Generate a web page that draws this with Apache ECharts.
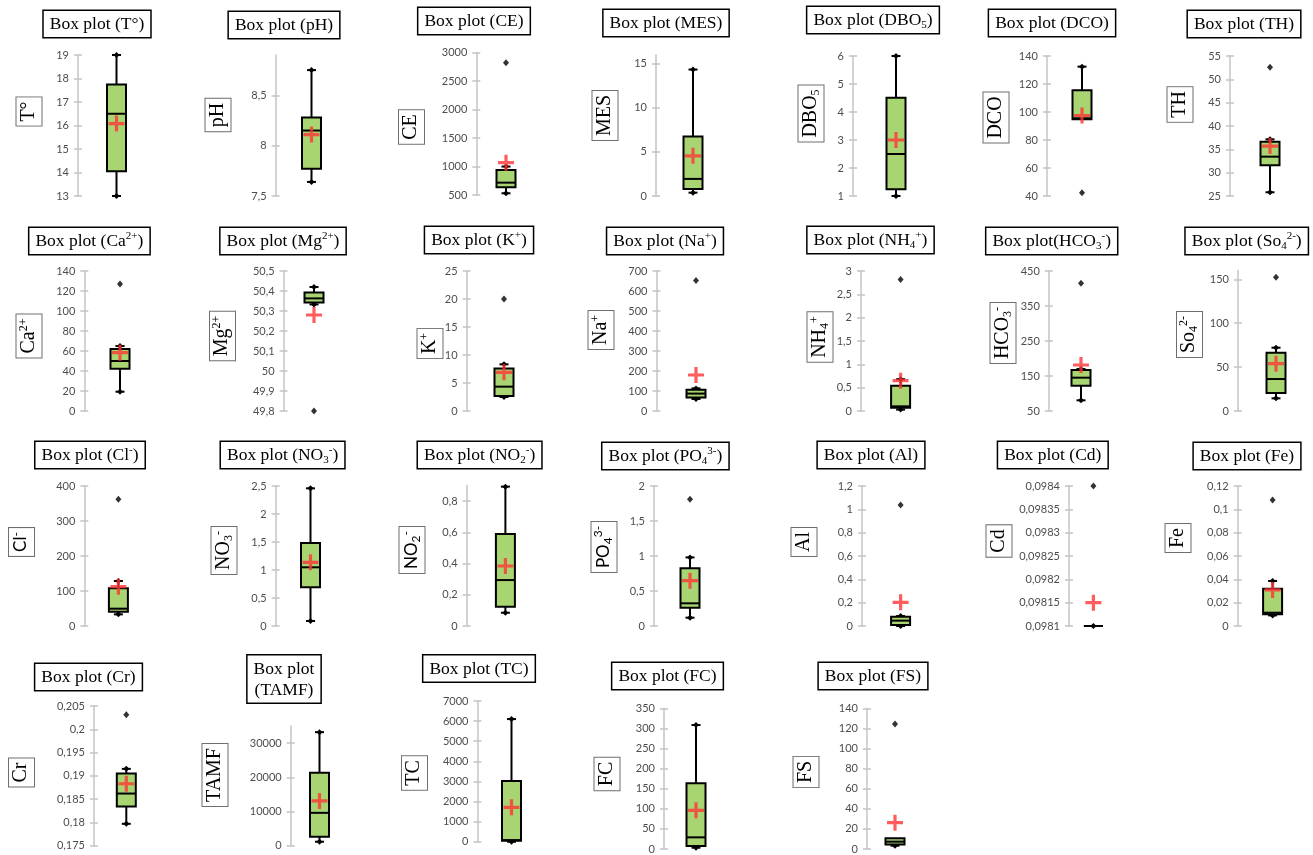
<!DOCTYPE html>
<html><head><meta charset="utf-8">
<script src="https://cdn.jsdelivr.net/npm/echarts@6/dist/echarts.min.js"></script>
<style>html,body{margin:0;padding:0;background:#fff}#c{width:1313px;height:855px}</style>
</head><body><div id="c"></div>
<script>
// ---------- data ----------
const titles = ['Box plot (T°)','Box plot (pH)','Box plot (CE)','Box plot (MES)','Box plot (DBO_{5})','Box plot (DCO)','Box plot (TH)',
  'Box plot (Ca^{2+})','Box plot (Mg^{2+})','Box plot (K^{+})','Box plot (Na^{+})','Box plot (NH_{4}^{+})','Box plot(HCO_{3}^{-})','Box plot (So_{4}^{2-})',
  'Box plot (Cl^{-})','Box plot (NO_{3}^{-})','Box plot (NO_{2}^{-})','Box plot (PO_{4}^{3-})','Box plot (Al)','Box plot (Cd)','Box plot (Fe)',
  'Box plot (Cr)','Box plot\n(TAMF)','Box plot (TC)','Box plot (FC)','Box plot (FS)'];
const axisNames = ['T°','pH','CE','MES','DBO_{5}','DCO','TH',
  'Ca^{2+}','Mg^{2+}','K^{+}','Na^{+}','NH_{4}^{+}','HCO_{3}^{-}','So_{4}^{2-}',
  'Cl^{-}','NO_{3}^{-}','NO_{2}^{-}','PO_{4}^{3-}','Al','Cd','Fe',
  'Cr','TAMF','TC','FC','FS'];
const lowWhisker  = [13, 7.64, 530, 0.38, 1, 94.8, 25.8, 19.3, 50.333, 2.5, 60, 0.03, 80.5, 14.4, 33.3, 0.089, 0.085, 0.119, 0, 0.0981, 0.0091, 0.1797, 1165, 0, 3.3, 3.3];
const q1          = [14.05, 7.77, 635, 0.8, 1.24, 94.8, 31.57, 42.3, 50.342, 2.68, 68, 0.07, 122.4, 20.5, 41, 0.69, 0.124, 0.262, 0.009, 0.0981, 0.01, 0.1834, 2620, 50, 7.5, 4.6];
const median      = [16.5, 8.15, 717, 1.94, 2.5, 95.5, 33.43, 50, 50.363, 4.35, 87, 0.1, 145.2, 36.4, 49.5, 1.048, 0.294, 0.324, 0.046, 0.0981, 0.0114, 0.1862, 9610, 80, 29, 7.3];
const q3          = [17.75, 8.28, 939, 6.75, 4.51, 115.5, 36.6, 62, 50.393, 7.6, 106, 0.54, 167, 66.4, 107.6, 1.482, 0.589, 0.824, 0.08, 0.0981, 0.032, 0.1905, 21360, 3018, 163.4, 10.6];
const highWhisker = [19, 8.75, 1000, 14.35, 6, 132.4, 37.14, 65, 50.42, 8.33, 113, 0.68, 170, 72.1, 128.6, 2.458, 0.892, 0.98, 0.085, 0.0981, 0.0386, 0.1915, 33200, 6100, 308.5, 10.6];
const means       = [16.08, 8.11, 1068, 4.56, 3.0, 97.5, 35.7, 58.3, 50.28, 6.9, 180, 0.65, 181.4, 53.9, 112.4, 1.137, 0.384, 0.648, 0.203, 0.09815, 0.0309, 0.1883, 13100, 1708, 96.3, 26.2];
const outliers    = [[], [], [2824], [], [], [42.4], [52.6], [127], [49.8], [20], [652], [2.82], [414.8], [152.3], [362], [], [], [1.81], [1.037], [0.0984], [0.108], [0.2031], [], [], [], [124.4]];
const axisMin  = [13, 7.5, 500, 0, 1, 40, 25, 0, 49.8, 0, 0, 0, 50, 0, 0, 0, 0, 0, 0, 0.0981, 0, 0.175, 0, 0, 0, 0];
const axisMax  = [19, 8.9, 3000, 16, 6, 140, 55, 140, 50.5, 25, 700, 3, 450, 160, 400, 2.5, 0.9, 2, 1.2, 0.0984, 0.12, 0.205, 35000, 7000, 350, 140];
const axisStep = [1, 0.5, 500, 5, 1, 20, 5, 20, 0.1, 5, 100, 0.5, 100, 50, 100, 0.5, 0.2, 0.5, 0.2, 0.00005, 0.02, 0.005, 10000, 1000, 50, 20];

// ---------- layout (px): axisX, boxX, top, bottom, titleX, titleY, nameX, nameY ----------
const layout = [
 [78, 116.5, 55, 196, 97, 24, 29, 111.5],
 [275.6, 311.5, 55, 196, 284, 25, 218, 115],
 [476.3, 506, 52.7, 195, 474, 21, 411.5, 127],
 [656, 693, 55, 196, 666, 23, 605, 115.5],
 [853, 896, 56, 196, 873, 20, 811, 113.5],
 [1047, 1082, 56, 196, 1052, 23, 996, 117.5],
 [1230, 1270, 56, 196, 1244, 24, 1180, 104.5],
 [84.3, 120, 271, 411, 89.4, 241, 29, 336],
 [283.6, 314, 271, 411, 283, 241, 222.5, 336],
 [466.6, 504, 271, 411, 479, 240, 430, 343.5],
 [656.5, 696, 271, 411, 665, 241, 601, 330],
 [861, 900.6, 271, 411, 870.5, 240, 820, 337],
 [1048.8, 1081, 271, 411, 1051.7, 241, 1003, 333],
 [1238, 1276, 270.5, 411, 1246.7, 241, 1189.5, 334.5],
 [84.3, 118.4, 486, 626, 90, 455, 21.5, 542],
 [275.6, 310.5, 486, 626, 282.6, 455, 224, 550.5],
 [466.6, 505.4, 485.4, 626, 479.6, 455, 412, 550],
 [654, 690, 486, 626, 665.4, 456, 604, 547],
 [862, 900.6, 486, 626, 871, 455, 804, 542],
 [1069, 1093.4, 486, 626, 1052.8, 455, 999, 541],
 [1237.7, 1272.6, 486, 626, 1247, 456, 1178, 538],
 [94, 126.3, 706, 845.7, 88.5, 677, 21.5, 772.5],
 [290.7, 319.5, 726, 845.7, 284, 679, 215, 775],
 [477.4, 511.5, 701, 841.7, 479, 668.5, 414.5, 773],
 [664, 696, 708.3, 849, 667.5, 676, 607, 774],
 [867, 895, 708.3, 849, 873, 676, 806, 772]
];
const sansNames = [14, 16, 17];

const BOX_FILL = '#a8d572';
const AXIS_GREY = '#c4c4c4';
const SERIF = 'Liberation Serif';
const PLUS = 'path://M-1.6,-8H1.6V-1.6H8V1.6H1.6V8H-1.6V1.6H-8V-1.6H-1.6Z';

function toRich(s, p) {
  return s.replace(/_\{([^}]*)\}/g, '{' + p + 'sub|$1}').replace(/\^\{([^}]*)\}/g, '{' + p + 'sup|$1}');
}
function fmt(v) { return String(+(+v).toPrecision(10)).replace('.', ','); }
function ticksFor(i) {
  const out = [];
  for (let k = 0; ; k++) {
    const v = +(axisMin[i] + k * axisStep[i]).toPrecision(10);
    if (v > axisMax[i] + 1e-12) break;
    out.push(v);
  }
  return out;
}

function renderBox(params, api) {
  const c = (val) => api.coord([0, val]);
  const cx = c(api.value(1))[0];
  const yLo = c(api.value(1))[1], yQ1 = c(api.value(2))[1], yMed = c(api.value(3))[1],
        yQ3 = c(api.value(4))[1], yHi = c(api.value(5))[1];
  const hw = 9.5, cw = 4.5, d = 3;
  const ls = { stroke: '#000', lineWidth: 2 };
  const ch = [];
  function whisker(yFrom, yTo) {
    ch.push({ type: 'line', shape: { x1: cx, y1: yFrom, x2: cx, y2: yTo }, style: ls });
    ch.push({ type: 'line', shape: { x1: cx - cw, y1: yTo, x2: cx + cw, y2: yTo }, style: ls });
    ch.push({ type: 'polygon', shape: { points: [[cx, yTo - d], [cx + d, yTo], [cx, yTo + d], [cx - d, yTo]] }, style: { fill: '#000' } });
  }
  if (yHi < yQ3 - 0.5) whisker(yQ3, yHi);
  if (yLo > yQ1 + 0.5) whisker(yQ1, yLo);
  ch.push({ type: 'rect', shape: { x: cx - hw, y: yQ3, width: 2 * hw, height: Math.max(yQ1 - yQ3, 0) },
            style: { fill: BOX_FILL, stroke: '#000', lineWidth: 2 } });
  ch.push({ type: 'line', shape: { x1: cx - hw, y1: yMed, x2: cx + hw, y2: yMed }, style: ls });
  if (yHi >= yQ3 - 0.5 && yLo <= yQ1 + 0.5 && Math.abs(yQ1 - yQ3) < 0.5) {
    ch.push({ type: 'polygon', shape: { points: [[cx, yQ1 - d], [cx + d, yQ1], [cx, yQ1 + d], [cx - d, yQ1]] }, style: { fill: '#000' } });
  }
  return { type: 'group', children: ch };
}

const grid = [], xAxis = [], yAxis = [], innerTicks = [], series = [], elements = [];
titles.forEach((t, i) => {
  const [ax, bx, top, bottom, tx, ty, nx, ny] = layout[i];
  grid.push({ left: ax, top: top, width: 2 * (bx - ax), height: bottom - top, containLabel: false, outerBoundsMode: 'none' });
  xAxis.push({ gridIndex: i, type: 'value', min: -1, max: 1, show: false });
  const ticks = ticksFor(i);
  yAxis.push({
    gridIndex: i, type: 'value', position: 'left', min: axisMin[i], max: axisMax[i], interval: axisStep[i],
    axisLine: { show: true, onZero: false, lineStyle: { color: AXIS_GREY, width: 1.5 } },
    axisTick: { show: true, inside: false, length: 4, lineStyle: { color: AXIS_GREY, width: 1.5 }, customValues: ticks },
    axisLabel: { show: true, margin: 9, color: '#4d4d4d', fontFamily: 'Lato', fontSize: 11, formatter: fmt, customValues: ticks,
                 showMinLabel: true, showMaxLabel: true },
    splitLine: { show: false }
  });
  // second axis on the same line: inward half of the cross-style tick marks
  innerTicks.push({
    gridIndex: i, type: 'value', position: 'left', min: axisMin[i], max: axisMax[i], interval: axisStep[i],
    axisLine: { show: false, onZero: false },
    axisTick: { show: true, inside: true, length: 4, lineStyle: { color: AXIS_GREY, width: 1.5 }, customValues: ticks },
    axisLabel: { show: false },
    splitLine: { show: false }
  });
  series.push({
    type: 'custom', name: axisNames[i], xAxisIndex: i, yAxisIndex: i, renderItem: renderBox, silent: true, z: 2,
    data: [[0, lowWhisker[i], q1[i], median[i], q3[i], highWhisker[i]]],
    encode: { x: 0, y: [1, 2, 3, 4, 5] }
  });
  series.push({
    type: 'scatter', xAxisIndex: i, yAxisIndex: i, silent: true, z: 3,
    symbol: 'diamond', symbolSize: [6, 7], itemStyle: { color: '#000' },
    data: outliers[i].map(v => [0, v])
  });
  series.push({
    type: 'scatter', xAxisIndex: i, yAxisIndex: i, silent: true, z: 4,
    symbol: PLUS, symbolSize: 16, symbolKeepAspect: true, itemStyle: { color: '#ff3535' },
    data: [[0, means[i]]]
  });
  elements.push({
    type: 'text', x: tx, y: ty, silent: true, z: 10,
    style: {
      text: toRich(t, 't'), fontFamily: SERIF, fontSize: 17.5, lineHeight: 21, fill: '#000',
      align: 'center', verticalAlign: 'middle',
      borderColor: '#000', borderWidth: 1.5, padding: [3, 6, 2, 6], backgroundColor: '#fff',
      rich: {
        tsup: { fontSize: 11, fontFamily: SERIF, fill: '#000', verticalAlign: 'top', lineHeight: 12 },
        tsub: { fontSize: 11, fontFamily: SERIF, fill: '#000', verticalAlign: 'bottom', lineHeight: 12 }
      }
    }
  });
  const sans = sansNames.indexOf(i) >= 0;
  const fam = sans ? 'Lato' : SERIF;
  elements.push({
    type: 'text', x: nx, y: ny, rotation: Math.PI / 2, silent: true, z: 10,
    style: {
      text: toRich(axisNames[i], 'n'), fontFamily: fam, fontSize: sans ? 17 : 20, lineHeight: 22, fill: '#000',
      align: 'center', verticalAlign: 'middle',
      borderColor: '#6f6f6f', borderWidth: 1, padding: [1, 4, 2, 4], backgroundColor: '#fff',
      rich: {
        nsup: { fontSize: 12, fontFamily: fam, fill: '#000', verticalAlign: 'top', lineHeight: 12 },
        nsub: { fontSize: 12, fontFamily: fam, fill: '#000', verticalAlign: 'bottom', lineHeight: 12 }
      }
    }
  });
});

const chart = echarts.init(document.getElementById('c'), null, { renderer: 'canvas' });
chart.setOption({
  backgroundColor: '#ffffff',
  animation: false,
  grid, xAxis, yAxis: yAxis.concat(innerTicks), series,
  graphic: { elements }
});
</script>
</body></html>
